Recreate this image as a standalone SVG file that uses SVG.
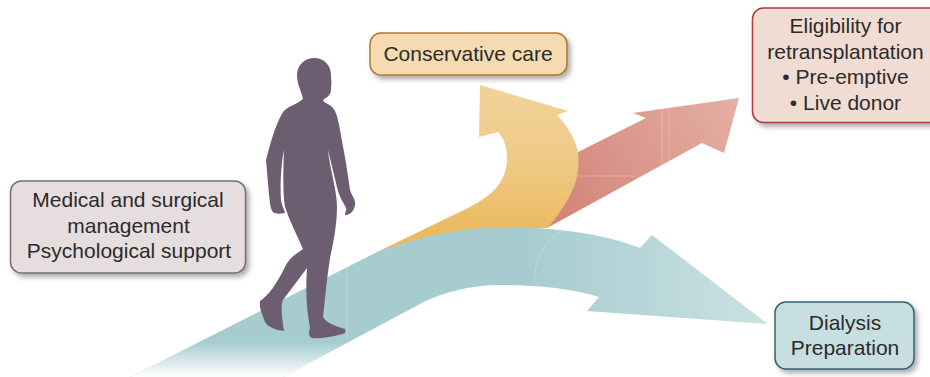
<svg xmlns="http://www.w3.org/2000/svg" width="930" height="377" viewBox="0 0 930 377">
<style>
.lbl{font-family:"Liberation Sans",Arial,sans-serif;font-size:21px;fill:#2b2b2b;text-anchor:middle}
.box{stroke-width:1.5;filter:url(#sh)}
.seam{fill:none;stroke:#fff;stroke-opacity:.22;stroke-width:1}
</style>
<defs>
<filter id="sh" x="-10%" y="-15%" width="125%" height="135%"><feDropShadow dx="3" dy="3.5" stdDeviation="2.5" flood-color="#5a5a5a" flood-opacity=".5"/></filter>
<linearGradient id="gO" x1="0" y1="85" x2="0" y2="228" gradientUnits="userSpaceOnUse"><stop offset="0" stop-color="#F1D29A"/><stop offset=".5" stop-color="#EFCB88"/><stop offset="1" stop-color="#EBBB62"/></linearGradient>
<linearGradient id="gR" x1="560" y1="215" x2="735" y2="105" gradientUnits="userSpaceOnUse"><stop offset="0" stop-color="#D3857A"/><stop offset="1" stop-color="#E4AEA2"/></linearGradient>
<linearGradient id="gT" x1="530" y1="0" x2="768" y2="0" gradientUnits="userSpaceOnUse"><stop offset="0" stop-color="#A7CCD0"/><stop offset="1" stop-color="#CAE1E3"/></linearGradient>
<linearGradient id="gF" x1="0" y1="342" x2="0" y2="377" gradientUnits="userSpaceOnUse"><stop offset="0" stop-color="#fff" stop-opacity="0"/><stop offset="1" stop-color="#fff"/></linearGradient>
<path id="teal" d="M130 377L377 252C430 233 470 227 507 227C560 228 605 234 640 248L652 235L768 324L587 311L599 297C570 288 535 285 500 285C470 285 440 293 420 304L283 377Z"/>
</defs>
<g id="connectors">
<path id="arrow-red" fill="url(#gR)" d="M547 228L702 143L724 153L739 98L633 113L646 118L578 152L560 190Z"/>
<path class="seam" d="M662 109V165M669 108V161M507 176H637"/>
<path id="arrow-orange" fill="url(#gO)" d="M377 252L470 207C486 198 507 186 507 158C507 146 503 137 498 132L479 137L480 85L568 111L557 115C568 127 576 140 578 153C581 178 572 198 548 228L480 232Z"/>
<use href="#teal" fill="url(#gT)"/>
<use href="#teal" fill="url(#gF)"/>
<path class="seam" d="M347 268V340M563 230C545 240 534 260 534 283"/>
</g>
<g id="person">
<path fill="#6C5D70" d="M303 99C301 90 297 84 297 75C297 65 305 58 314 58C325 58 331 66 331 75C331 80 332 83 331 87C331 90 331 92 330 94C328 97 325 98 323 100C324 103 327 103 331 106C336 110 338 118 340 130L346 163L350 190C352 196 356 200 355 205C354 212 349 215 345 215C345 212 347 210 346 208C344 203 339 198 336 183L328 150C330 170 337 190 337 207C337 225 333 245 330 258L327 280L323 317C326 322 332 325 345 329C346 332 345 334 342 334C332 337 318 339 312 338C309 337 308 333 310 328C308 315 305 300 307 268L283 300C281 305 281 310 284 331C275 330 268 327 265 322C262 314 259 308 260 301C268 296 276 285 285 267C289 258 296 254 303 249C297 235 290 222 285 207C283 195 283 175 284 150C281 165 280 185 281 200C282 207 285 210 285 213C280 214 275 214 273 212C270 208 270 202 269 195L266 160C270 145 275 125 283 112C288 106 296 105 303 99Z"/>
</g>
<g id="medical">
<rect class="box" x="10.500" y="181" width="235" height="92" rx="11" fill="#E6DEDE" stroke="#7B6C7F"/>
<text class="lbl" x="128" y="207">Medical and surgical</text>
<text class="lbl" x="128.500" y="233">management</text>
<text class="lbl" x="129" y="258">Psychological support</text>
</g>
<g id="conservative">
<rect class="box" x="370" y="33" width="197" height="42" rx="11" fill="#F5DBAF" stroke="#B07A35"/>
<text class="lbl" x="468" y="61">Conservative care</text>
</g>
<g id="eligibility">
<rect class="box" x="752.500" y="8" width="190" height="114.500" rx="11" fill="#F1DCD3" stroke="#B03A3A"/>
<text class="lbl" x="845.500" y="33">Eligibility for</text>
<text class="lbl" x="845.500" y="59">retransplantation</text>
<text class="lbl" x="845.500" y="84">• Pre-emptive</text>
<text class="lbl" x="845.500" y="110">• Live donor</text>
</g>
<g id="dialysis">
<rect class="box" x="775" y="302" width="139" height="67" rx="11" fill="#C8DFE1" stroke="#2F6470"/>
<text class="lbl" x="845" y="330">Dialysis</text>
<text class="lbl" x="845" y="355">Preparation</text>
</g>
</svg>
